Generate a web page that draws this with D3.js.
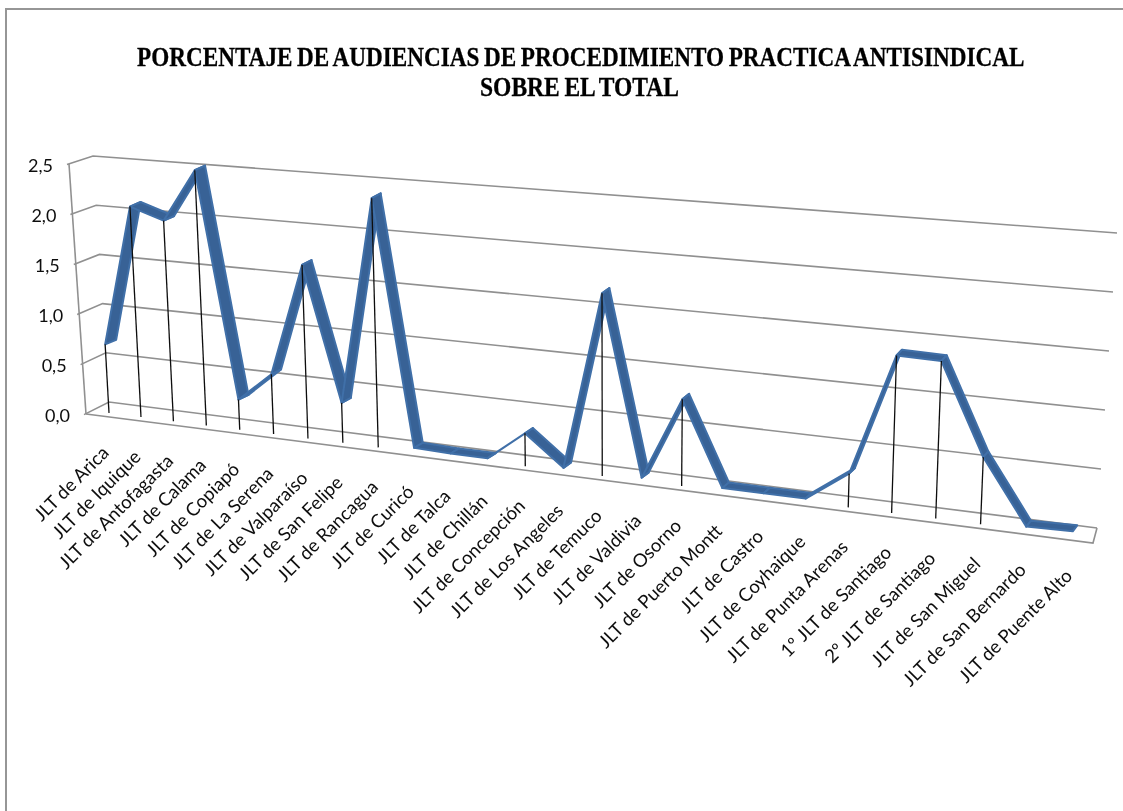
<!DOCTYPE html>
<html>
<head>
<meta charset="utf-8">
<script src="https://cdn.jsdelivr.net/npm/d3@7/dist/d3.min.js"></script>
<style>
  html, body { margin: 0; padding: 0; background: #fff; }
  svg { display: block; }
  .tickLabel, .catLabel { font-family: Lato, "Open Sans", sans-serif; fill: #111; }
  .title { font-family: "Liberation Serif", serif; font-weight: bold; fill: #000; stroke: #000; stroke-width: 0.3; word-spacing: -1.5px; }
</style>
</head>
<body>
<div class="figure"></div>
<script>
// values
const titleLines = [
  'PORCENTAJE DE AUDIENCIAS DE PROCEDIMIENTO PRACTICA ANTISINDICAL',
  'SOBRE EL TOTAL'
];
const categories = [
  'JLT de Arica', 'JLT de Iquique', 'JLT de Antofagasta', 'JLT de Calama', 'JLT de Copiapó',
  'JLT de La Serena', 'JLT de Valparaíso', 'JLT de San Felipe', 'JLT de Rancagua', 'JLT de Curicó',
  'JLT de Talca', 'JLT de Chillán', 'JLT de Concepción', 'JLT de Los Angeles', 'JLT de Temuco',
  'JLT de Valdivia', 'JLT de Osorno', 'JLT de Puerto Montt', 'JLT de Castro', 'JLT de Coyhaique',
  'JLT de Punta Arenas', '1º JLT de Santiago', '2º JLT de Santiago', 'JLT de San Miguel',
  'JLT de San Bernardo', 'JLT de Puente Alto'
];
const porcentajes = [
  0.70, 2.10, 1.99, 2.50, 0.30, 0.59, 1.68, 0.39, 2.36, 0.04,
  0.03, 0.03, 0.31, 0.03, 1.67, 0.03, 0.79, 0.03, 0.03, 0.03,
  0.30, 1.37, 1.36, 0.58, 0.03, 0.04
];
const tickValues = [0, 0.5, 1, 1.5, 2, 2.5];
const tickFormat = d => d.toFixed(1).replace('.', ',');

const width = 1123;
const height = 811;

const svg = d3.select('.figure')
  .append('svg')
  .attr('width', width)
  .attr('height', height);

// the source is a slightly soft screenshot
svg.append('filter').attr('id', 'soft')
  .append('feGaussianBlur').attr('stdDeviation', 0.35);

const chart = svg.append('g').attr('filter', 'url(#soft)');

// outer chart frame, runs off the right and bottom of the picture
chart.append('path')
  .attr('d', `M6,${height + 5}V9H${width + 5}`)
  .attr('fill', 'none')
  .attr('stroke', '#969696')
  .attr('stroke-width', 2);

// title, squeezed to the width of the condensed source face
const titleY = [66, 96];
const titleX = [137, 480];
const titleLen = [888, 199];
chart.selectAll('.title')
  .data(titleLines)
  .enter().append('text')
    .attr('class', 'title')
    .attr('font-size', 28)
    .text(d => d)
    .attr('transform', function(d, i) {
      const k = titleLen[i] / this.getComputedTextLength();
      return `translate(${titleX[i]},${titleY[i]}) scale(${k},1)`;
    });

// 3d box edges, one linear scale per edge of the walls
const y01 = [0, 2.5];
const axisX = d3.scaleLinear().domain(y01).range([86, 69]);
const axisY = d3.scaleLinear().domain(y01).range([414, 164]);
const backLeftX = d3.scaleLinear().domain(y01).range([109, 93]);
const backLeftY = d3.scaleLinear().domain(y01).range([402, 156]);
const backRightX = d3.scaleLinear().domain(y01).range([1097, 1117]);
const backRightY = d3.scaleLinear().domain(y01).range([528, 233]);

const grid = chart.append('g')
  .attr('fill', 'none')
  .attr('stroke', '#909090')
  .attr('stroke-width', 1.6);

// side wall + back wall gridlines
grid.selectAll('.gridLine')
  .data(tickValues)
  .enter().append('polyline')
    .attr('class', 'gridLine')
    .attr('points', d => [
      [axisX(d) - 2, axisY(d) + 0.6],
      [backLeftX(d), backLeftY(d)],
      [backRightX(d), backRightY(d)]
    ].join(' '));

// value axis
grid.append('line')
  .attr('x1', axisX(0)).attr('y1', axisY(0))
  .attr('x2', axisX(2.5)).attr('y2', axisY(2.5));

// front edge and right edge of the floor
grid.append('polyline')
  .attr('points', [[axisX(0), axisY(0)], [1093, 543], [backRightX(0), backRightY(0)]].join(' '));

chart.selectAll('.tickLabel')
  .data(tickValues)
  .enter().append('text')
    .attr('class', 'tickLabel')
    .attr('x', d => axisX(d) - 16)
    .attr('y', d => axisY(d) + 2)
    .attr('dy', '0.35em')
    .attr('text-anchor', 'end')
    .attr('font-size', 18)
    .text(tickFormat);

// series plane inside the box: unit square -> screen quad
const quad = [[109, 413], [1072.5, 536], [1088, 235], [95, 163]];

const perspective = (q) => {
  const [[x0, y0], [x1, y1], [x2, y2], [x3, y3]] = q;
  const dx1 = x1 - x2, dx2 = x3 - x2, sx = x0 - x1 + x2 - x3;
  const dy1 = y1 - y2, dy2 = y3 - y2, sy = y0 - y1 + y2 - y3;
  const den = dx1 * dy2 - dx2 * dy1;
  const g = (sx * dy2 - dx2 * sy) / den;
  const h = (dx1 * sy - sx * dy1) / den;
  const a = x1 - x0 + g * x1, b = x3 - x0 + h * x3;
  const d = y1 - y0 + g * y1, e = y3 - y0 + h * y3;
  return (u, v) => {
    const w = g * u + h * v + 1;
    return [(a * u + b * v + x0) / w, (d * u + e * v + y0) / w];
  };
};
const plane = perspective(quad);

const u = d3.scalePoint().domain(categories).range([0, 1]);
const v = d3.scaleLinear().domain(y01).range([0, 1]);
const project = (cat, val) => plane(u(cat), v(val));

const rows = categories.map((c, i) => ({ cat: c, val: porcentajes[i], i }));

// ribbon depth, shrinks towards the right like the source
const depthX = d3.scaleLinear().domain([0, categories.length - 1]).range([11, 4.5]);
const depthY = d3.scaleLinear().domain([0, categories.length - 1]).range([-4.5, -6]);

const pairs = d3.pairs(rows);

chart.append('g')
  .selectAll('polygon')
  .data(pairs)
  .enter().append('polygon')
    .attr('points', ([a, b]) => {
      const pa = project(a.cat, a.val);
      const pb = project(b.cat, b.val);
      return [
        pa, pb,
        [pb[0] + depthX(b.i), pb[1] + depthY(b.i)],
        [pa[0] + depthX(a.i), pa[1] + depthY(a.i)]
      ].join(' ');
    })
    .attr('fill', '#376296')
    .attr('stroke', '#406fa8')
    .attr('stroke-width', 2)
    .attr('stroke-linejoin', 'round');

// drop lines, not visible for the near zero courts
chart.append('g')
  .selectAll('line')
  .data(rows.filter(d => d.val > 0.1))
  .enter().append('line')
    .attr('x1', d => project(d.cat, d.val)[0])
    .attr('y1', d => project(d.cat, d.val)[1])
    .attr('x2', d => project(d.cat, 0)[0])
    .attr('y2', d => project(d.cat, 0)[1])
    .attr('stroke', '#111')
    .attr('stroke-width', 1.3);

// category labels
chart.selectAll('.catLabel')
  .data(rows)
  .enter().append('text')
    .attr('class', 'catLabel')
    .attr('font-size', 18.5)
    .attr('text-anchor', 'end')
    .attr('transform', d => {
      const [x, y] = project(d.cat, 0);
      return `translate(${x + 1},${y + 41}) rotate(-45)`;
    })
    .text(d => d.cat);
</script>
</body>
</html>
